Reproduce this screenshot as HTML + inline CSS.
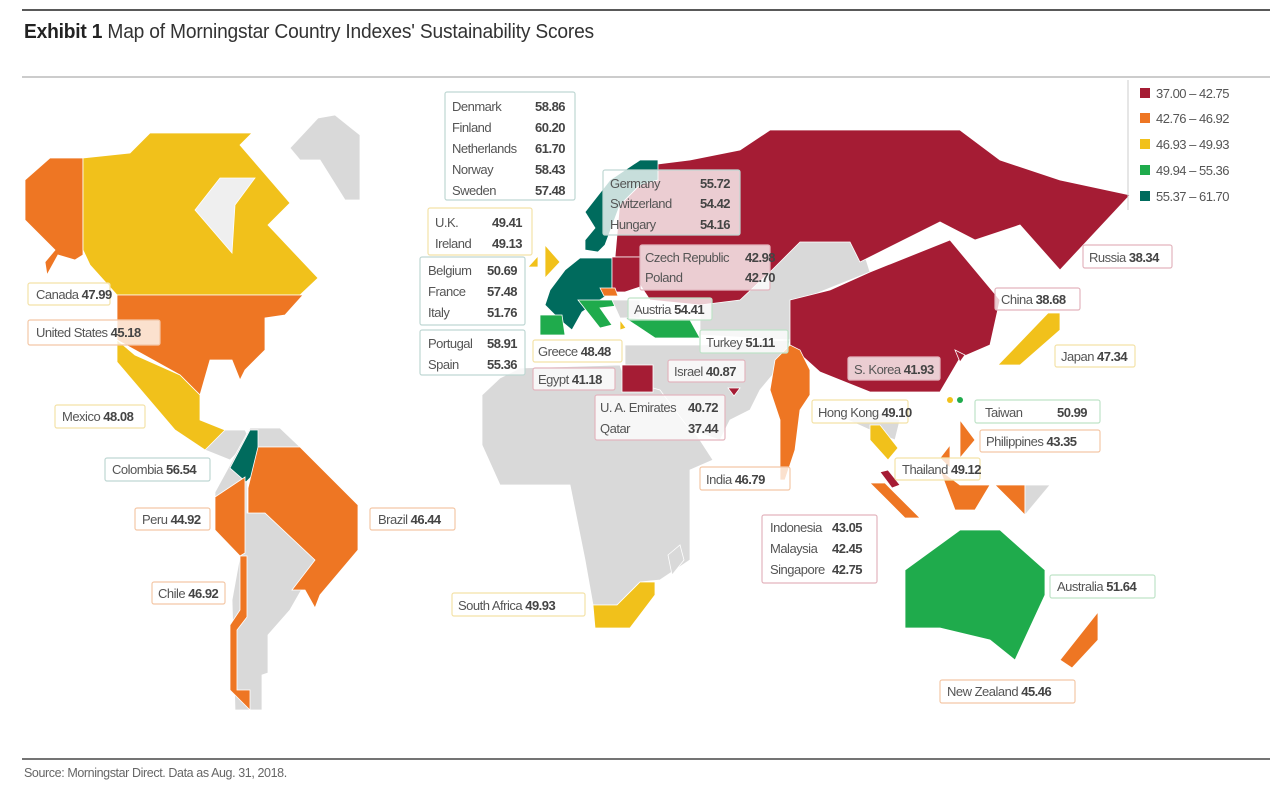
<!DOCTYPE html>
<html><head><meta charset="utf-8"><style>
body{margin:0;background:#fff;width:1288px;height:793px;overflow:hidden}
svg text{font-family:"Liberation Sans",sans-serif;font-size:13px;letter-spacing:-0.5px;fill:#555}
svg text.v{font-weight:bold;fill:#444}
</style></head><body>
<svg width="1288" height="793" viewBox="0 0 1288 793" xmlns="http://www.w3.org/2000/svg">
<line x1="22" y1="10" x2="1270" y2="10" stroke="#222" stroke-width="1.5"/>
<text transform="translate(24,38) scale(0.96,1)" x="0" y="0" style="font-size:20px;letter-spacing:-0.2px;fill:#333"><tspan font-weight="bold" fill="#222">Exhibit 1</tspan> Map of Morningstar Country Indexes' Sustainability Scores</text>
<line x1="22" y1="77" x2="1270" y2="77" stroke="#999" stroke-width="1"/>
<line x1="22" y1="759" x2="1270" y2="759" stroke="#222" stroke-width="1.2"/>
<text x="24" y="777" style="font-size:12.5px;letter-spacing:-0.4px;fill:#666">Source: Morningstar Direct. Data as Aug. 31, 2018.</text>

<g stroke="#fff" stroke-width="0.8">
<polygon fill="#d9d9d9" points="290,148 318,118 335,115 360,135 360,200 345,200 320,160 300,160"/>
<polygon fill="#ee7623" points="25,180 50,158 83,158 83,255 75,260 58,255 47,275 45,262 55,250 25,220"/>
<polygon fill="#f1c11b" points="83,158 130,153 150,133 252,133 240,145 290,203 268,225 318,278 300,295 117,295 90,265 83,250"/>
<polygon fill="#efefef" points="220,178 255,178 235,205 232,253 195,210"/>
<polygon fill="#ee7623" points="117,295 303,295 285,315 265,318 265,350 245,370 240,380 232,360 210,360 200,395 180,375 135,350 117,340"/>
<polygon fill="#f1c11b" points="117,340 135,355 180,375 200,395 200,420 225,430 225,450 205,450 175,430 117,362"/>
<polygon fill="#d9d9d9" points="205,450 225,430 245,430 250,440 230,460"/>
<polygon fill="#d9d9d9" points="215,492 250,428 280,428 300,447 258,447 247,475 247,513 265,513 315,560 310,575 290,610 268,635 268,673 262,675 262,710 235,710 232,600 240,556 240,520 215,520"/>
<polygon fill="#006b5d" points="230,468 250,430 258,430 258,470 246,482"/>
<polygon fill="#ee7623" points="248,488 258,447 300,447 358,505 358,550 320,595 315,608 305,590 292,590 315,560 265,513 248,513"/>
<polygon fill="#ee7623" points="215,497 245,477 245,553 240,556 215,530"/>
<polygon fill="#ee7623" points="240,556 247,556 247,617 237,630 237,690 250,690 250,710 230,690 230,625 240,610"/>
<polygon fill="#d9d9d9" points="520,368 620,365 625,380 665,390 700,440 713,460 690,470 690,560 660,580 640,582 617,605 593,605 585,560 570,485 500,485 482,445 482,395 500,378"/>
<polygon fill="#f1c11b" points="593,605 617,605 640,582 655,582 655,595 630,628 595,628"/>
<polygon fill="#d9d9d9" points="668,555 680,545 684,560 672,575"/>
<polygon fill="#d9d9d9" points="625,345 700,345 790,340 785,360 760,390 750,410 730,420 720,440 690,430 660,390 625,380"/>
<polygon fill="#a51c34" points="622,365 653,365 653,392 622,392"/>
<polygon fill="#a51c34" points="728,388 740,388 734,396"/>
<polygon fill="#d9d9d9" points="700,240 860,240 870,272 800,300 790,340 700,335"/>
<polygon fill="#a51c34" points="650,165 690,160 740,150 770,130 960,130 1000,160 1060,180 1130,195 1060,270 1020,225 975,240 940,222 860,262 850,242 800,242 770,272 740,300 700,305 650,300 640,285 640,257 615,257 620,200 640,185 658,180"/>
<polygon fill="#a51c34" points="790,300 830,290 870,272 950,240 1000,300 990,345 960,358 940,392 870,392 820,372 790,345"/>
<polygon fill="#a51c34" points="955,350 965,355 960,362"/>
<polygon fill="#f1c11b" points="998,365 1048,313 1060,313 1060,330 1020,365"/>
<polygon fill="#ee7623" points="775,360 790,345 800,350 810,370 810,395 800,410 795,450 785,480 780,480 780,420 770,390"/>
<polygon fill="#d9d9d9" points="848,420 870,410 900,420 895,440 870,430"/>
<polygon fill="#f1c11b" points="870,425 880,425 898,448 888,460 870,440"/>
<polygon fill="#a51c34" points="880,472 888,470 900,485 892,488"/>
<polygon fill="#ee7623" points="870,483 885,483 920,518 905,518"/>
<polygon fill="#ee7623" points="940,470 960,485 990,485 975,510 955,510"/>
<polygon fill="#ee7623" points="995,485 1025,485 1025,515"/>
<polygon fill="#d9d9d9" points="1025,485 1050,485 1025,515"/>
<polygon fill="#ee7623" points="960,420 975,440 960,458"/>
<polygon fill="#ee7623" points="940,458 950,445 950,468"/>
<circle cx="950" cy="400" r="3" fill="#f1c11b" stroke="none"/>
<circle cx="960" cy="400" r="3" fill="#1fab4c" stroke="none"/>
<polygon fill="#1fab4c" points="905,570 960,530 1000,530 1045,570 1045,595 1015,660 990,640 940,628 905,628"/>
<polygon fill="#ee7623" points="1060,660 1098,612 1098,640 1072,668"/>
<polygon fill="#006b5d" points="585,212 610,180 640,160 658,160 658,180 640,185 620,205 605,245 598,252 585,250 585,240 595,228"/>
<polygon fill="#f1c11b" points="545,245 560,262 545,278"/>
<polygon fill="#f1c11b" points="528,267 538,256 538,267"/>
<polygon fill="#006b5d" points="550,290 565,270 580,258 612,258 612,292 600,300 582,312 572,330 560,320 545,305"/>
<polygon fill="#a51c34" points="612,257 640,257 640,287 625,292 612,292"/>
<polygon fill="#ee7623" points="600,288 615,288 618,296 604,296"/>
<polygon fill="#1fab4c" points="578,300 620,300 625,305 600,308 612,325 600,328"/>
<polygon fill="#1fab4c" points="540,315 562,315 565,335 540,335"/>
<polygon fill="#d9d9d9" points="612,300 640,300 640,318 620,318"/>
<polygon fill="#1fab4c" points="625,318 690,320 700,338 655,338"/>
<polygon fill="#f1c11b" points="620,320 626,328 620,330"/>
</g>

<line x1="1128" y1="80" x2="1128" y2="210" stroke="#ccc"/>
<rect x="1140" y="88" width="10" height="10" fill="#a51c34"/><text x="1156" y="98">37.00 – 42.75</text>
<rect x="1140" y="113" width="10" height="10" fill="#ee7623"/><text x="1156" y="123">42.76 – 46.92</text>
<rect x="1140" y="139" width="10" height="10" fill="#f1c11b"/><text x="1156" y="149">46.93 – 49.93</text>
<rect x="1140" y="165" width="10" height="10" fill="#1fab4c"/><text x="1156" y="175">49.94 – 55.36</text>
<rect x="1140" y="191" width="10" height="10" fill="#006b5d"/><text x="1156" y="201">55.37 – 61.70</text>

<g fill="rgba(255,255,255,0.78)" stroke-width="1.2">
<rect x="445" y="92" width="130" height="108" rx="2" stroke="#bfd7d3"/>
<rect x="603" y="170" width="137" height="65" rx="2" stroke="#bfd7d3"/>
<rect x="428" y="208" width="104" height="47" rx="2" stroke="#f3e2a8"/>
<rect x="640" y="245" width="130" height="45" rx="2" stroke="#e3b5be"/>
<rect x="420" y="257" width="105" height="68" rx="2" stroke="#bfd7d3"/>
<rect x="28" y="283" width="82" height="22" rx="2" stroke="#f3e2a8"/>
<rect x="28" y="320" width="132" height="25" rx="2" stroke="#f4c7a6"/>
<rect x="628" y="298" width="84" height="22" rx="2" stroke="#bfe3c8"/>
<rect x="420" y="330" width="105" height="45" rx="2" stroke="#bfd7d3"/>
<rect x="533" y="340" width="89" height="22" rx="2" stroke="#f3e2a8"/>
<rect x="700" y="330" width="88" height="23" rx="2" stroke="#bfe3c8"/>
<rect x="533" y="368" width="82" height="22" rx="2" stroke="#e3b5be"/>
<rect x="668" y="360" width="77" height="22" rx="2" stroke="#e3b5be"/>
<rect x="595" y="395" width="130" height="45" rx="2" stroke="#e3b5be"/>
<rect x="1083" y="245" width="89" height="23" rx="2" stroke="#e3b5be"/>
<rect x="995" y="288" width="85" height="22" rx="2" stroke="#e3b5be"/>
<rect x="1055" y="345" width="80" height="22" rx="2" stroke="#f3e2a8"/>
<rect x="848" y="357" width="92" height="23" rx="2" stroke="#e3b5be"/>
<rect x="812" y="400" width="96" height="23" rx="2" stroke="#f3e2a8"/>
<rect x="975" y="400" width="125" height="23" rx="2" stroke="#bfe3c8"/>
<rect x="980" y="430" width="120" height="22" rx="2" stroke="#f4c7a6"/>
<rect x="895" y="458" width="85" height="22" rx="2" stroke="#f3e2a8"/>
<rect x="700" y="467" width="90" height="23" rx="2" stroke="#f4c7a6"/>
<rect x="762" y="515" width="115" height="68" rx="2" stroke="#e3b5be"/>
<rect x="55" y="405" width="90" height="23" rx="2" stroke="#f3e2a8"/>
<rect x="105" y="458" width="105" height="23" rx="2" stroke="#bfd7d3"/>
<rect x="135" y="508" width="75" height="22" rx="2" stroke="#f4c7a6"/>
<rect x="370" y="508" width="85" height="22" rx="2" stroke="#f4c7a6"/>
<rect x="152" y="582" width="73" height="22" rx="2" stroke="#f4c7a6"/>
<rect x="452" y="593" width="133" height="23" rx="2" stroke="#f3e2a8"/>
<rect x="1050" y="575" width="105" height="23" rx="2" stroke="#bfe3c8"/>
<rect x="940" y="680" width="135" height="23" rx="2" stroke="#f4c7a6"/>
</g>

<g>
<text x="452" y="111">Denmark</text><text class="v" x="535" y="111">58.86</text>
<text x="452" y="132">Finland</text><text class="v" x="535" y="132">60.20</text>
<text x="452" y="153">Netherlands</text><text class="v" x="535" y="153">61.70</text>
<text x="452" y="174">Norway</text><text class="v" x="535" y="174">58.43</text>
<text x="452" y="195">Sweden</text><text class="v" x="535" y="195">57.48</text>
<text x="610" y="188">Germany</text><text class="v" x="700" y="188">55.72</text>
<text x="610" y="208">Switzerland</text><text class="v" x="700" y="208">54.42</text>
<text x="610" y="229">Hungary</text><text class="v" x="700" y="229">54.16</text>
<text x="435" y="227">U.K.</text><text class="v" x="492" y="227">49.41</text>
<text x="435" y="248">Ireland</text><text class="v" x="492" y="248">49.13</text>
<text x="645" y="262">Czech Republic</text><text class="v" x="745" y="262">42.98</text>
<text x="645" y="282">Poland</text><text class="v" x="745" y="282">42.70</text>
<text x="428" y="275">Belgium</text><text class="v" x="487" y="275">50.69</text>
<text x="428" y="296">France</text><text class="v" x="487" y="296">57.48</text>
<text x="428" y="317">Italy</text><text class="v" x="487" y="317">51.76</text>
<text x="36" y="299">Canada <tspan font-weight="bold" fill="#444">47.99</tspan></text>
<text x="36" y="337">United States <tspan font-weight="bold" fill="#444">45.18</tspan></text>
<text x="634" y="314">Austria <tspan font-weight="bold" fill="#444">54.41</tspan></text>
<text x="428" y="348">Portugal</text><text class="v" x="487" y="348">58.91</text>
<text x="428" y="369">Spain</text><text class="v" x="487" y="369">55.36</text>
<text x="538" y="356">Greece <tspan font-weight="bold" fill="#444"> 48.48</tspan></text>
<text x="706" y="347">Turkey <tspan font-weight="bold" fill="#444">51.11</tspan></text>
<text x="538" y="384">Egypt <tspan font-weight="bold" fill="#444">41.18</tspan></text>
<text x="674" y="376">Israel <tspan font-weight="bold" fill="#444">40.87</tspan></text>
<text x="600" y="412">U. A. Emirates</text><text class="v" x="688" y="412">40.72</text>
<text x="600" y="433">Qatar</text><text class="v" x="688" y="433">37.44</text>
<text x="1089" y="262">Russia <tspan font-weight="bold" fill="#444">38.34</tspan></text>
<text x="1001" y="304">China <tspan font-weight="bold" fill="#444">38.68</tspan></text>
<text x="1061" y="361">Japan <tspan font-weight="bold" fill="#444">47.34</tspan></text>
<text x="854" y="374">S. Korea <tspan font-weight="bold" fill="#444">41.93</tspan></text>
<text x="818" y="417">Hong Kong <tspan font-weight="bold" fill="#444"> 49.10</tspan></text>
<text x="985" y="417">Taiwan</text><text class="v" x="1057" y="417">50.99</text>
<text x="986" y="446">Philippines <tspan font-weight="bold" fill="#444">43.35</tspan></text>
<text x="902" y="474">Thailand <tspan font-weight="bold" fill="#444"> 49.12</tspan></text>
<text x="706" y="484">India <tspan font-weight="bold" fill="#444">46.79</tspan></text>
<text x="770" y="532">Indonesia</text><text class="v" x="832" y="532">43.05</text>
<text x="770" y="553">Malaysia</text><text class="v" x="832" y="553">42.45</text>
<text x="770" y="574">Singapore</text><text class="v" x="832" y="574">42.75</text>
<text x="62" y="421">Mexico <tspan font-weight="bold" fill="#444">48.08</tspan></text>
<text x="112" y="474">Colombia <tspan font-weight="bold" fill="#444">56.54</tspan></text>
<text x="142" y="524">Peru <tspan font-weight="bold" fill="#444">44.92</tspan></text>
<text x="378" y="524">Brazil <tspan font-weight="bold" fill="#444">46.44</tspan></text>
<text x="158" y="598">Chile <tspan font-weight="bold" fill="#444">46.92</tspan></text>
<text x="458" y="610">South Africa <tspan font-weight="bold" fill="#444"> 49.93</tspan></text>
<text x="1057" y="591">Australia <tspan font-weight="bold" fill="#444">51.64</tspan></text>
<text x="947" y="696">New Zealand <tspan font-weight="bold" fill="#444">45.46</tspan></text>
</g>
</svg>
</body></html>
